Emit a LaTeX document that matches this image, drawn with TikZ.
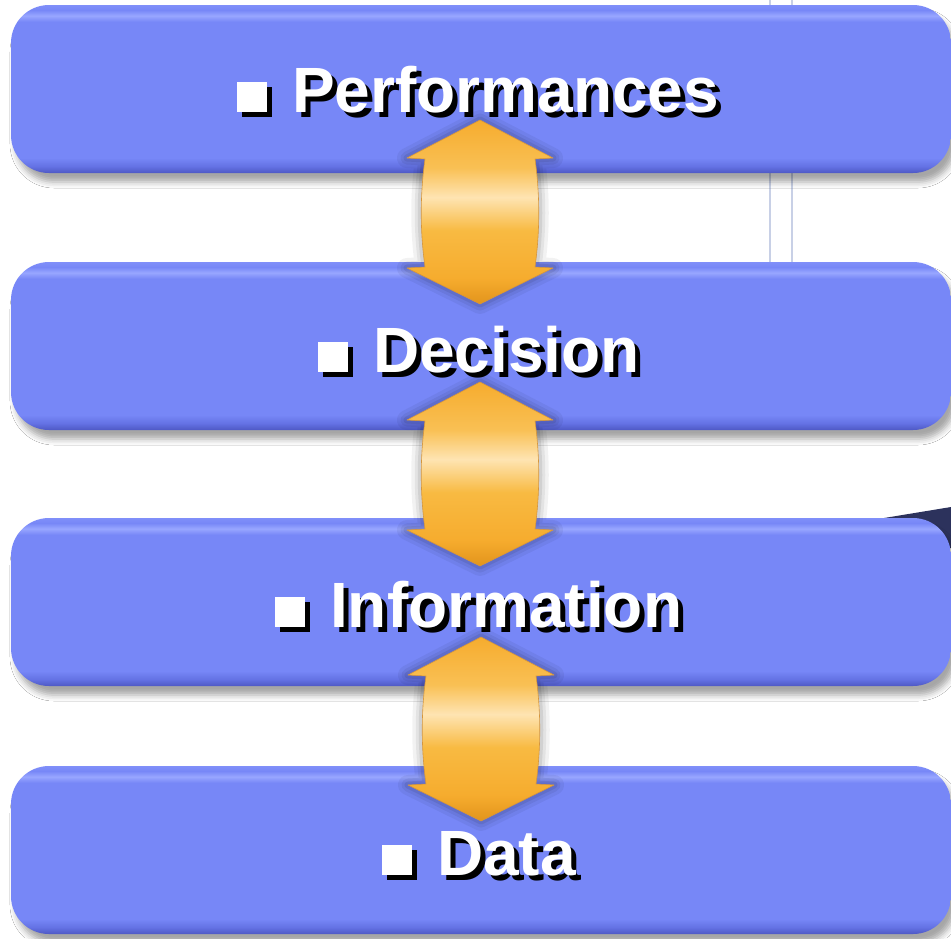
\documentclass[tikz,border=0pt]{standalone}
\usepackage{fontspec}
\setmainfont{Liberation Sans}
\usetikzlibrary{shadows.blur}
\definecolor{bmain}{RGB}{119,135,247}
\definecolor{bdark}{RGB}{78,88,196}
\definecolor{bmid}{RGB}{100,114,228}
\definecolor{blight}{RGB}{152,166,255}
\definecolor{btop}{RGB}{128,143,249}
\definecolor{aorange}{RGB}{246,172,46}
\definecolor{aorl}{RGB}{249,192,84}
\definecolor{acream}{RGB}{254,228,178}
\definecolor{aorm}{RGB}{248,186,66}
\definecolor{adark}{RGB}{226,148,28}
\definecolor{aedge}{RGB}{214,150,60}
\definecolor{bgline}{RGB}{200,208,230}
\definecolor{wedge}{RGB}{44,50,92}
\pgfdeclareverticalshading{boxsh}{100bp}{color(0bp)=(bdark); color(25bp)=(bdark); color(27bp)=(bmid); color(29.5bp)=(bmain); color(70bp)=(bmain); color(71.8bp)=(blight); color(73.5bp)=(bmain); color(75bp)=(btop); color(100bp)=(btop)}
\pgfdeclareverticalshading{arrsh}{100bp}{color(0bp)=(adark); color(25bp)=(adark); color(32bp)=(aorange); color(45bp)=(aorm); color(54bp)=(acream); color(62bp)=(aorl); color(75bp)=(aorange); color(100bp)=(aorange)}
\newcommand\lbltext[1]{\rule{30pt}{30pt}\hspace{25pt}#1}
\tikzset{
  boxnode/.style={rectangle, rounded corners=38pt, minimum width=940pt, minimum height=168pt, inner sep=0pt, shading=boxsh,
    blur shadow={shadow xshift=5pt, shadow yshift=-9pt, shadow blur radius=6pt, shadow opacity=35}},
  lbl/.style={anchor=base west, inner sep=0pt, font=\fontsize{64}{70}\selectfont\bfseries},
  bgl/.style={draw=bgline, line width=2.5pt},
  dblarr/.pic={
    \foreach \w/\o in {20/0.05,13/0.06,7/0.08}{
      \draw[black, opacity=\o, line width=\w pt, line join=round]
        (0,0) -- (73,38) -- (55,39) .. controls (60,75) and (60,111) .. (55,147) -- (73,148) -- (0,184)
        -- (-73,148) -- (-55,147) .. controls (-60,111) and (-60,75) .. (-55,39) -- (-73,38) -- cycle;}
    \path[shading=arrsh, draw=aedge, line width=0.6pt, line join=round]
        (0,0) -- (73,38) -- (55,39) .. controls (60,75) and (60,111) .. (55,147) -- (73,148) -- (0,184)
        -- (-73,148) -- (-55,147) .. controls (-60,111) and (-60,75) .. (-55,39) -- (-73,38) -- cycle;
  }
}
\begin{document}
\begin{tikzpicture}[x=1pt, y=-1pt]
\useasboundingbox (0,0) rectangle (951,938);
\clip (0,0) rectangle (951,938);
\fill[white] (0,0) rectangle (951,938);
% faint background lines
\draw[bgl] (770,0) -- (770,262);
\draw[bgl] (792,0) -- (792,262);
\fill[wedge] (878,519) -- (951,507) -- (951,548) -- (915,548) -- cycle;
% boxes
\node[boxnode] (b1) at (481,89) {};
\node[boxnode] (b2) at (481,346) {};
\node[boxnode] (b3) at (481,602) {};
\node[boxnode] (b4) at (481,850) {};
% arrows
\coordinate (a1) at (480,120);
\coordinate (a2) at (480,382);
\coordinate (a3) at (481,637);
\pic at (a1) {dblarr};
\pic at (a2) {dblarr};
\pic at (a3) {dblarr};
% labels
\node[lbl, text=black] (t1s) at (242,117) {\lbltext{Performances}};
\node[lbl, text=white] (t1) at (237,112) {\lbltext{Performances}};
\node[lbl, text=black] (t2s) at (323,377) {\lbltext{Decision}};
\node[lbl, text=white] (t2) at (318,372) {\lbltext{Decision}};
\node[lbl, text=black] (t3s) at (280,632) {\lbltext{Information}};
\node[lbl, text=white] (t3) at (275,627) {\lbltext{Information}};
\node[lbl, text=black] (t4s) at (387,880) {\lbltext{Data}};
\node[lbl, text=white] (t4) at (382,875) {\lbltext{Data}};
\end{tikzpicture}
\end{document}
